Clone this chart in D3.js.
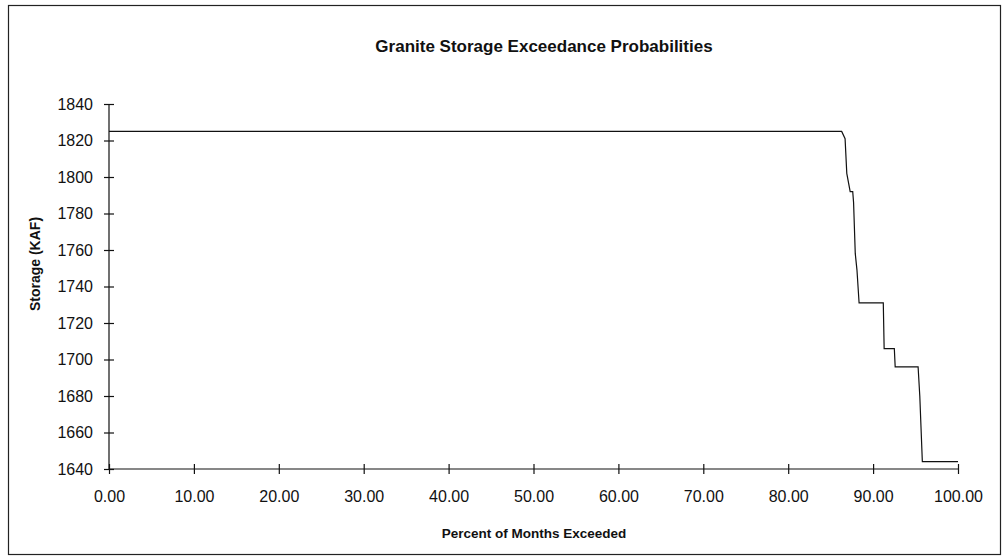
<!DOCTYPE html>
<html>
<head>
<meta charset="utf-8">
<script src="https://cdn.jsdelivr.net/npm/d3@7"></script>
<style>
  html, body { margin: 0; padding: 0; background: #fff; }
  svg { display: block; font-family: "Liberation Sans", Arial, sans-serif; }
</style>
</head>
<body>
<svg id="chart" width="1004" height="556"></svg>
<script>
// ---- data ----
const percentExceeded = [0, 86.3, 86.7, 86.9, 87.3, 87.6, 87.7, 87.9, 88.1, 88.35, 91.2, 91.3, 92.5, 92.6, 95.3, 95.5, 95.8, 100];
const storageKAF     = [1825, 1825, 1821, 1802, 1792, 1792, 1786, 1758, 1749, 1731, 1731, 1706, 1706, 1696, 1696, 1680, 1644, 1644];
const xTickValues = [0, 10, 20, 30, 40, 50, 60, 70, 80, 90, 100];
const yTickValues = [1640, 1660, 1680, 1700, 1720, 1740, 1760, 1780, 1800, 1820, 1840];
const titleText = "Granite Storage Exceedance Probabilities";
const xTitleText = "Percent of Months Exceeded";
const yTitleText = "Storage (KAF)";

const svg = d3.select("#chart");
const plot = { left: 109, right: 958, top: 104, bottom: 469 };

// outer frame
svg.append("rect")
  .attr("x", 8.5).attr("y", 5.5)
  .attr("width", 992).attr("height", 549)
  .attr("fill", "none").attr("stroke", "#222").attr("stroke-width", 1.2);

const x = d3.scaleLinear().domain([0, 100]).range([plot.left, plot.right]);
const y = d3.scaleLinear().domain([1640, 1840]).range([plot.bottom, plot.top]);

// axes
const xAxis = d3.axisBottom(x).tickValues(xTickValues).tickFormat(d3.format(".2f")).tickSize(5).tickPadding(17);
const yAxis = d3.axisLeft(y).tickValues(yTickValues).tickFormat(d3.format("d")).tickSize(5).tickPadding(11);

const gx = svg.append("g").attr("transform", `translate(0,${plot.bottom})`).call(xAxis);
const gy = svg.append("g").attr("transform", `translate(${plot.left},0)`).call(yAxis);

[gx, gy].forEach(g => {
  g.select(".domain").attr("stroke", "#111").attr("stroke-width", 1.2);
  g.selectAll(".tick line").attr("stroke", "#111").attr("stroke-width", 1.2);
  g.selectAll(".tick text").attr("fill", "#111").style("font-size", "16px")
    .style("font-family", "'Liberation Sans', Arial, sans-serif");
});
// ticks cross the axis lines
gx.selectAll(".tick line").attr("y1", -5).attr("y2", 5);
gy.selectAll(".tick line").attr("x1", -5).attr("x2", 5);
gx.select(".domain").attr("d", `M${plot.left},0H${plot.right}`);
gy.select(".domain").attr("d", `M0,${plot.top}V${plot.bottom}`);

// series line
const pts = percentExceeded.map((p, i) => [p, storageKAF[i]]);
const line = d3.line().x(d => x(d[0])).y(d => y(d[1]));
svg.append("path").datum(pts)
  .attr("d", line).attr("fill", "none")
  .attr("stroke", "#111").attr("stroke-width", 1.2);

// titles
svg.append("text").attr("x", 544).attr("y", 52)
  .attr("text-anchor", "middle").style("font-size", "17px").style("font-weight", "bold")
  .attr("fill", "#111").text(titleText);

svg.append("text").attr("x", 534).attr("y", 538)
  .attr("text-anchor", "middle").style("font-size", "13.5px").style("font-weight", "bold")
  .attr("fill", "#111").text(xTitleText);

svg.append("text")
  .attr("transform", `translate(40,264) rotate(-90)`)
  .attr("text-anchor", "middle").style("font-size", "14px").style("font-weight", "bold")
  .attr("fill", "#111").text(yTitleText);
</script>
</body>
</html>
